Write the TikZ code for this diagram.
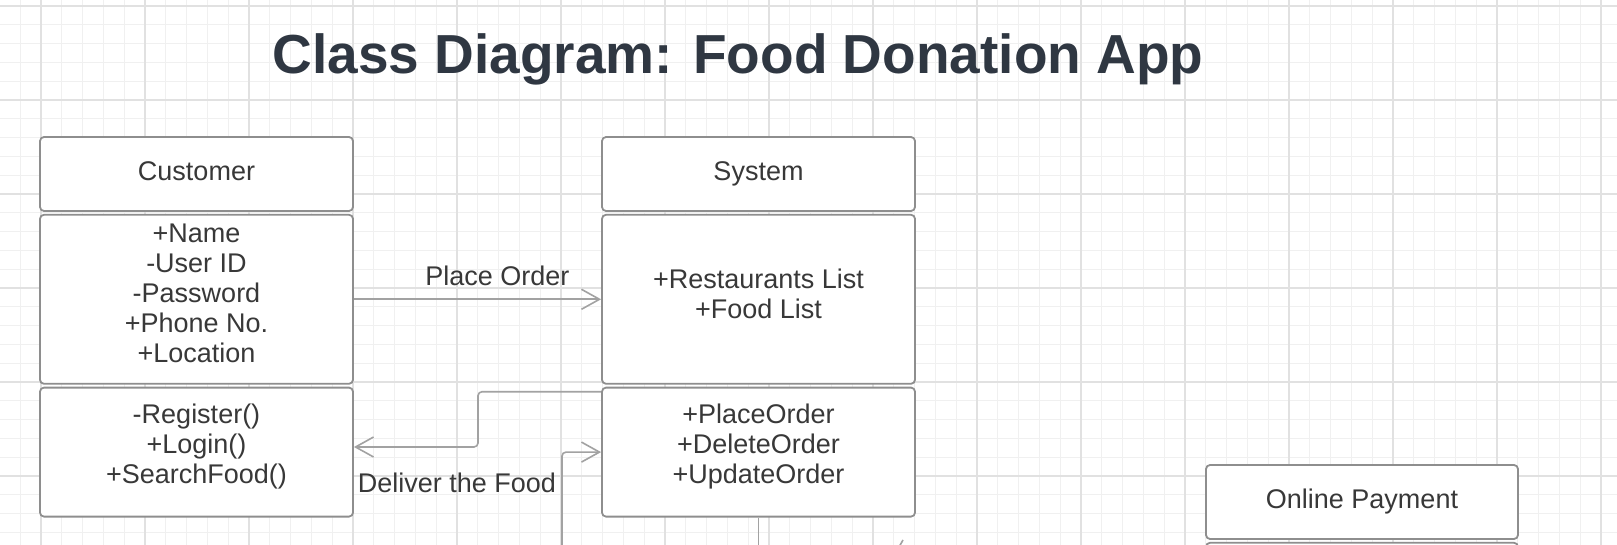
\documentclass[tikz,border=0pt]{standalone}
\usepackage{fontspec}
\setmainfont{Liberation Sans}
\usetikzlibrary{arrows.meta,positioning}
\definecolor{gridminor}{HTML}{F0F0F0}
\definecolor{gridmajor}{HTML}{E1E1E1}
\definecolor{boxedge}{HTML}{8E8E8E}
\definecolor{linkgray}{HTML}{A2A2A2}
\definecolor{classtext}{HTML}{383838}
\definecolor{titleink}{HTML}{2F3742}

\begin{document}
\begin{tikzpicture}[
  x=0.5pt,
  y=-0.5pt,
  line join=round,
  minorline/.style={draw=gridminor,line width=0.5pt},
  majorline/.style={draw=gridmajor,line width=0.8pt},
  classbox/.style={draw=boxedge,line width=0.9pt,fill=white,rounded corners=2pt,
    minimum width=156.5pt,inner sep=0pt,align=center,text=classtext,
    text height=9.7pt,text depth=2.9pt,
    font=\fontsize{13.5}{15}\selectfont},
  boxtext/.style={align=center,text=classtext,inner sep=0pt,yshift=2.8pt,
    font=\fontsize{13.5}{15}\selectfont},
  assoc/.style={draw=linkgray,line width=0.8pt,rounded corners=2pt,
    -{Straight Barb[length=9pt,width=10pt]}},
  link/.style={draw=linkgray,line width=0.8pt},
  linklabel/.style={text=classtext,font=\fontsize{13.5}{15}\selectfont}
]
  \useasboundingbox (0,0) rectangle (1617,545);
  \clip (0,0) rectangle (1617,545);
  \fill[white] (0,0) rectangle (1617,545);

  % Background grid, a major line every five minor ones.
  \foreach \k in {-1,...,76} {
    \draw[minorline] ({41+20.8*\k},0) -- ({41+20.8*\k},545);
  }
  \foreach \k in {-5,...,24} {
    \draw[minorline] (0,{100+18.8*\k}) -- (1617,{100+18.8*\k});
  }
  \foreach \k in {0,5,...,75} {
    \draw[majorline] ({41+20.8*\k},0) -- ({41+20.8*\k},545);
  }
  \foreach \k in {-5,0,...,20} {
    \draw[majorline] (0,{100+18.8*\k}) -- (1617,{100+18.8*\k});
  }

  % Title.
  \node[anchor=base,text=titleink,font=\fontsize{27.5}{33}\selectfont\bfseries]
    (title) at (738,74) {Class Diagram: Food Donation App};

  % Customer class.
  \node[classbox,minimum height=37pt] (custHead) at (196.5,174) {Customer};
  \node[classbox,minimum height=84.5pt,below=1pt of custHead,
    label={[boxtext]center:{+Name\\-User ID\\-Password\\+Phone No.\\+Location}}] (custAttr) {};
  \node[classbox,minimum height=64.5pt,below=1pt of custAttr,
    label={[boxtext]center:{-Register()\\+Login()\\+SearchFood()}}] (custMeth) {};

  % System class.
  \node[classbox,minimum height=37pt] (sysHead) at (758.5,174) {System};
  \node[classbox,minimum height=84.5pt,below=1pt of sysHead,
    label={[boxtext]center:{+Restaurants List\\+Food List}}] (sysAttr) {};
  \node[classbox,minimum height=64.5pt,below=1pt of sysAttr,
    label={[boxtext]center:{+PlaceOrder\\+DeleteOrder\\+UpdateOrder}}] (sysMeth) {};

  % Online payment class, cut by the lower edge.
  \node[classbox,minimum width=156pt,minimum height=37pt] (payHead) at (1362,502) {Online Payment};
  \node[classbox,minimum width=156pt,minimum height=40pt,below=1pt of payHead] (payAttr) {};

  % Loose ends below the picture.
  \coordinate (bendD) at (478,447);
  \coordinate (payIn) at (562,570);
  \coordinate (sysOut) at (758.5,570);
  \coordinate (stubA) at (899,547);
  \coordinate (stubB) at (903,540);

  % Associations.
  \draw[assoc] (custAttr.east) -- (sysAttr.west)
    node[linklabel,pos=0.58,yshift=11.5pt] {Place Order};
  \draw[assoc] ([yshift=-2.5pt]sysMeth.north west) -| (bendD) -- (custMeth.east |- bendD)
    node[linklabel,pos=0.17,yshift=-18pt] {Deliver the Food};
  \draw[assoc] (payIn) |- (sysMeth.west);
  \draw[link] (sysMeth.south) -- (sysOut);
  \draw[link] (stubA) -- (stubB);
\end{tikzpicture}
\end{document}
